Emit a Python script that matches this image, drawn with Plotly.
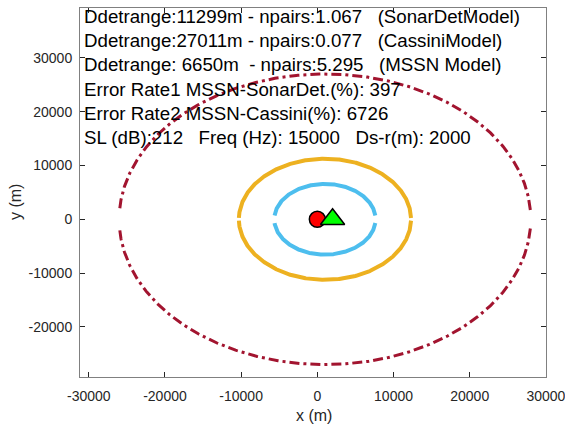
import numpy as np
import plotly.graph_objects as go

# ---- data ----
models = ["SonarDetModel", "CassiniModel", "MSSN Model"]
det_ranges = [11299, 27011, 6650]          # m (semi-major axis of each ellipse)
npairs = [1.067, 0.077, 5.295]
source_xy = [0, 0]                          # sonar source position (m)
receiver_xy = [2000, 0]                     # receiver position (m)
error_rate1 = 397
error_rate2 = 6726
sl_db = 212
freq_hz = 15000
ds_r = 2000
x_ticks = [-30000, -20000, -10000, 0, 10000, 20000, 30000]
y_ticks = [-20000, -10000, 0, 10000, 20000, 30000]

# ---- styles ----
draw_order = [1, 0, 2]                      # Cassini, SonarDet, MSSN
line_colors = {0: "#EDB120", 1: "#A2142F", 2: "#4DBEEE"}
line_widths = {0: 4, 1: 3, 2: 4}
line_dash = {0: "solid", 1: "10px,4px,3px,4px", 2: "solid"}
end_gap = {0: 250, 1: 1730, 2: 700}         # half-gap at ellipse ends (m)

fig = go.Figure()

xc = (source_xy[0] + receiver_xy[0]) / 2
yc = (source_xy[1] + receiver_xy[1]) / 2
c = abs(receiver_xy[0] - source_xy[0]) / 2
for i in draw_order:
    a = det_ranges[i]
    b = np.sqrt(a ** 2 - c ** 2)
    t0 = np.arcsin(end_gap[i] / b)
    for sgn in (1, -1):
        t = np.linspace(t0, np.pi - t0, 400)
        fig.add_trace(go.Scatter(
            x=xc + a * np.cos(t), y=yc + sgn * b * np.sin(t),
            mode="lines",
            line=dict(color=line_colors[i], width=line_widths[i], dash=line_dash[i]),
            hoverinfo="skip", showlegend=False))

fig.add_trace(go.Scatter(
    x=[source_xy[0]], y=[source_xy[1]], mode="markers",
    marker=dict(symbol="circle", size=16, color="#FF0000",
                line=dict(color="black", width=1.5)),
    showlegend=False))
fig.add_trace(go.Scatter(
    x=[receiver_xy[0]], y=[receiver_xy[1]], mode="markers",
    marker=dict(symbol="triangle-up", size=21, color="#00FF00",
                line=dict(color="black", width=1.5)),
    showlegend=False))

NB = "\u00a0"
lines = [
    f"Ddetrange:{det_ranges[0]}m - npairs:{npairs[0]:.3f}{NB*3}({models[0]})",
    f"Ddetrange:{det_ranges[1]}m - npairs:{npairs[1]:.3f}{NB*3}({models[1]})",
    f"Ddetrange:{NB}{det_ranges[2]}m{NB*2}- npairs:{npairs[2]:.3f}{NB*3}({models[2]})",
    f"Error Rate1 MSSN-SonarDet.(%): {error_rate1}",
    f"Error Rate2 MSSN-Cassini(%): {error_rate2}",
    f"SL (dB):{sl_db}{NB*3}Freq (Hz): {freq_hz}{NB*3}Ds-r(m): {ds_r}",
]

W, H = 565, 426
L, R, T, B = 80, 19, 8, 49
ph = H - T - B
pw = W - L - R

def py(p):
    return (H - B - p) / ph

def px(p):
    return (p - L) / pw

annotations = []
for k, s in enumerate(lines):
    annotations.append(dict(
        text=s, xref="paper", yref="paper", x=px(82), y=py(16.5 + 24.2 * k),
        xanchor="left", yanchor="middle", showarrow=False,
        font=dict(family="Liberation Sans, Arial", size=18.7, color="black")))

annotations.append(dict(text="x (m)", xref="paper", yref="paper",
                        x=px(313.5), y=py(415.5), xanchor="center", yanchor="middle",
                        showarrow=False,
                        font=dict(family="Liberation Sans, Arial", size=16, color="#262626")))
annotations.append(dict(text="y (m)", xref="paper", yref="paper",
                        x=px(15), y=py(202), xanchor="center", yanchor="middle",
                        textangle=-90, showarrow=False,
                        font=dict(family="Liberation Sans, Arial", size=16, color="#262626")))

axis_common = dict(
    showgrid=False, zeroline=False, showline=True, linecolor="#808080", linewidth=1,
    mirror="ticks", ticks="inside", ticklen=5, tickcolor="#262626", tickwidth=1,
    tickfont=dict(family="Liberation Sans, Arial", size=14, color="#262626"),
    ticklabeloverflow="allow", automargin=False,
)

fig.update_layout(
    width=W, height=H,
    margin=dict(l=L, r=R, t=T, b=B, pad=0, autoexpand=False),
    paper_bgcolor="white", plot_bgcolor="white",
    xaxis=dict(range=[-31150, 30010], tickvals=x_ticks,
               ticktext=[str(v) for v in x_ticks], ticklabelstandoff=6, **axis_common),
    yaxis=dict(range=[-29300, 39250], tickvals=y_ticks,
               ticktext=[str(v) for v in y_ticks], ticklabelstandoff=4, **axis_common),
    annotations=annotations,
    showlegend=False,
)

fig.write_html("out.html")
